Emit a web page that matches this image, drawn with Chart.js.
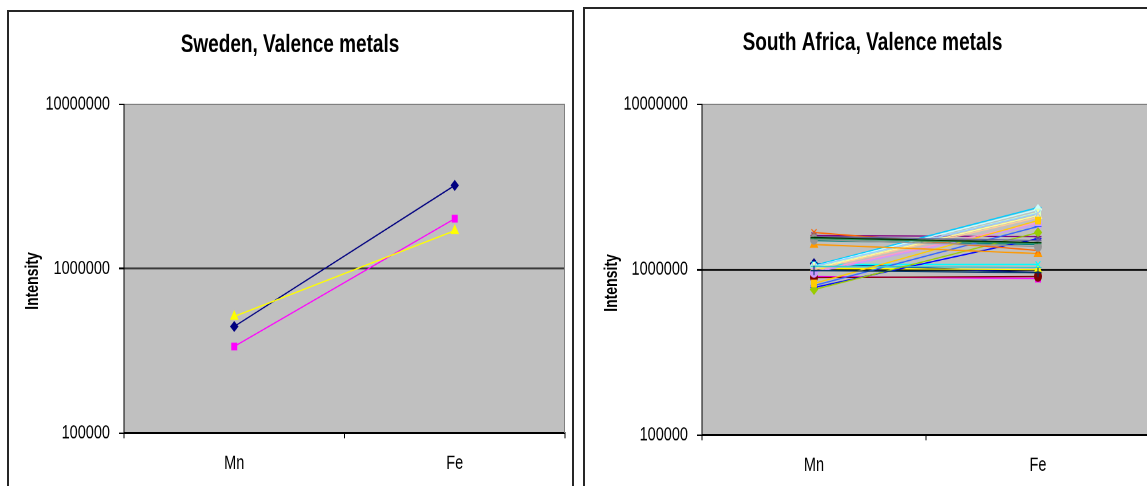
<!DOCTYPE html>
<html>
<head>
<meta charset="utf-8">
<title>Valence metals</title>
<script src="https://cdn.jsdelivr.net/npm/chart.js@4/dist/chart.umd.min.js"></script>
<style>
  html, body { margin: 0; padding: 0; background: #fff; width: 1147px; height: 486px; overflow: hidden; }
  .frame { position: absolute; box-sizing: border-box; border: 2px solid #262626; }
  .stretch { position: absolute; top: 0; transform-origin: 0 0; }
</style>
</head>
<body>
<div class="frame" style="left:7px; top:10px; width:567px; height:520px;"></div>
<div class="frame" style="left:583px; top:7px; width:620px; height:520px;"></div>
<div class="stretch" id="wrapSweden" style="left:0;"><canvas id="sweden" width="580" height="368"></canvas></div>
<div class="stretch" id="wrapSouthAfrica" style="left:580px;"><canvas id="southAfrica" width="580" height="368"></canvas></div>

<script>
// ---- data ----
const categories = ['Mn', 'Fe'];
const yTickValues = [100000, 1000000, 10000000];
const yTickLabels = ['100000', '1000000', '10000000'];

// Sweden samples: [Mn, Fe]
const swedenSample1 = [444000, 3200000];
const swedenSample2 = [336000, 2010000];
const swedenSample3 = [511000, 1700000];

// South Africa samples: [Mn, Fe]
const saSample01 = [1087000, 959000];
const saSample02 = [907000, 882000];
const saSample03 = [1014000, 1000000];
const saSample04 = [1072000, 1072000];
const saSample05 = [1605000, 1582000];
const saSample06 = [895000, 907000];
const saSample07 = [1497000, 1416000];
const saSample08 = [778000, 1539000];
const saSample09 = [1057000, 2370000];
const saSample10 = [1043000, 2305000];
const saSample11 = [1028000, 2210000];
const saSample12 = [1014000, 2120000];
const saSample13 = [1043000, 2179000];
const saSample14 = [973000, 1923000];
const saSample15 = [959000, 1870000];
const saSample16 = [1000000, 2062000];
const saSample17 = [800000, 1819000];
const saSample18 = [1043000, 1028000];
const saSample19 = [757000, 1673000];
const saSample20 = [823000, 1978000];
const saSample21 = [1416000, 1249000];
const saSample22 = [1673000, 1303000];
const saSample23 = [1582000, 1497000];
const saSample24 = [1518000, 1377000];
const saSample25 = [986000, 959000];
const saSample26 = [1539000, 1436000];
const saSample27 = [1561000, 1456000];

const swedenSeries = [swedenSample1, swedenSample2, swedenSample3];
const southAfricaSeries = [
  saSample01, saSample02, saSample03, saSample04, saSample05, saSample06, saSample07,
  saSample08, saSample09, saSample10, saSample11, saSample12, saSample13, saSample14,
  saSample15, saSample16, saSample17, saSample18, saSample19, saSample20, saSample21,
  saSample22, saSample23, saSample24, saSample25, saSample26, saSample27
];

// ---- styles ----
const FONT = "'Liberation Sans', Arial, sans-serif";
const STRETCH = 486 / 368;   // charts are drawn 368 tall and stretched vertically
const seriesColors = ['#000080', '#FF00FF', '#FFFF00', '#00FFFF', '#800080', '#800000', '#008080',
  '#0000FF', '#00CCFF', '#CCFFFF', '#CCFFCC', '#FFFF99', '#99CCFF', '#FF99CC', '#CC99FF',
  '#FFCC99', '#3366FF', '#33CCCC', '#99CC00', '#FFCC00', '#FF9900', '#FF6600', '#666699',
  '#969696', '#003366', '#339966', '#003300'];
const seriesMarkers = ['rectRot', 'rect', 'triangle', 'crossRot', 'star', 'circle', 'cross', 'line', 'line'];

function makeDatasets(list) {
  const n = list.length;
  return list.map((data, i) => {
    const c = seriesColors[i % seriesColors.length];
    const marker = seriesMarkers[i % seriesMarkers.length];
    return {
      data: data,
      borderColor: c,
      backgroundColor: c,
      pointBackgroundColor: c,
      pointBorderColor: c,
      pointStyle: marker,
      pointRadius: marker === 'triangle' ? 4 : 3.5,
      pointBorderWidth: 1,
      borderWidth: 1,
      tension: 0,
      order: n - i
    };
  });
}

// grey plot area with a thin grey frame on top/right
const plotFrame = {
  id: 'plotFrame',
  beforeDraw(chart) {
    const { ctx, chartArea: a } = chart;
    ctx.save();
    ctx.fillStyle = '#C0C0C0';
    ctx.fillRect(a.left, a.top, a.right - a.left, a.bottom - a.top);
    ctx.restore();
  },
  beforeDatasetsDraw(chart) {
    const { ctx, chartArea: a } = chart;
    ctx.save();
    ctx.strokeStyle = '#808080';
    ctx.lineWidth = 1;
    ctx.beginPath();
    ctx.moveTo(a.right - 0.5, a.top);
    ctx.lineTo(a.right - 0.5, a.bottom);
    ctx.stroke();
    ctx.restore();
  }
};

// vertical axis caption
const axisCaption = {
  id: 'axisCaption',
  afterDraw(chart, args, opts) {
    const ctx = chart.ctx;
    ctx.save();
    ctx.translate(opts.x, opts.y);
    ctx.scale(STRETCH, 1 / STRETCH);
    ctx.rotate(-Math.PI / 2);
    ctx.fillStyle = '#000';
    ctx.font = 'bold 14px ' + FONT;
    ctx.textAlign = 'center';
    ctx.textBaseline = 'middle';
    ctx.fillText(opts.text, 0, 0);
    ctx.restore();
  }
};

function buildChart(canvasId, series, cfg) {
  return new Chart(document.getElementById(canvasId), {
    type: 'line',
    data: { labels: categories, datasets: makeDatasets(series) },
    plugins: [plotFrame, axisCaption],
    options: {
      responsive: false,
      animation: false,
      devicePixelRatio: 2,
      events: [],
      layout: { padding: { left: cfg.padLeft, right: cfg.padRight, top: 0, bottom: 0 } },
      plugins: {
        legend: { display: false },
        tooltip: { enabled: false },
        title: {
          display: true,
          text: cfg.title,
          color: '#000',
          font: { family: FONT, size: 19, weight: 'bold', lineHeight: 1.2 },
          padding: { top: cfg.titleTop, bottom: cfg.titleBottom }
        },
        axisCaption: { text: 'Intensity', x: cfg.captionX, y: cfg.captionY }
      },
      scales: {
        x: {
          type: 'category',
          offset: true,
          grid: { offset: true, drawOnChartArea: false, drawTicks: true, tickLength: 4, tickColor: '#000', lineWidth: 1 },
          border: { display: true, color: '#000', width: 1.5 },
          ticks: { color: '#000', font: { family: FONT, size: 14.5 }, padding: 10.3, maxRotation: 0, autoSkip: false },
          afterFit(scale) { scale.height = cfg.xHeight; }
        },
        y: {
          type: 'logarithmic',
          min: yTickValues[0],
          max: yTickValues[yTickValues.length - 1],
          afterBuildTicks(scale) { scale.ticks = yTickValues.map(v => ({ value: v })); },
          grid: {
            drawTicks: true,
            tickLength: 5,
            tickColor: '#000',
            color(ctx) {
              const v = ctx.tick ? ctx.tick.value : 0;
              if (v === yTickValues[1]) return cfg.gridColor;
              if (v === yTickValues[2]) return '#808080';
              return 'rgba(0,0,0,0)';
            },
            lineWidth(ctx) {
              const v = ctx.tick ? ctx.tick.value : 0;
              return v === yTickValues[1] ? 1.5 : 1;
            }
          },
          border: { display: true, color: '#000', width: 1 },
          ticks: {
            color: '#000',
            font: { family: FONT, size: 14.5 },
            padding: 9,
            autoSkip: false,
            callback(value) {
              const i = yTickValues.indexOf(value);
              return i >= 0 ? yTickLabels[i] : '';
            }
          },
          afterFit(scale) { scale.width = cfg.yWidth; }
        }
      }
    }
  });
}

document.getElementById('wrapSweden').style.transform = 'scaleY(' + STRETCH + ')';
document.getElementById('wrapSouthAfrica').style.transform = 'scaleY(' + STRETCH + ')';

buildChart('sweden', swedenSeries, {
  title: 'Sweden, Valence metals',
  padLeft: 15, padRight: 15, yWidth: 109,
  titleTop: 22.67, titleBottom: 33.28,
  xHeight: 40.14,
  captionX: 33, captionY: 212.8,
  gridColor: '#3a3a3a'
});

buildChart('southAfrica', southAfricaSeries, {
  title: 'South Africa, Valence metals',
  padLeft: 15, padRight: 10, yWidth: 107,
  titleTop: 21.16, titleBottom: 34.79,
  xHeight: 38.62,
  captionX: 32, captionY: 214.3,
  gridColor: '#111'
});
</script>
</body>
</html>
